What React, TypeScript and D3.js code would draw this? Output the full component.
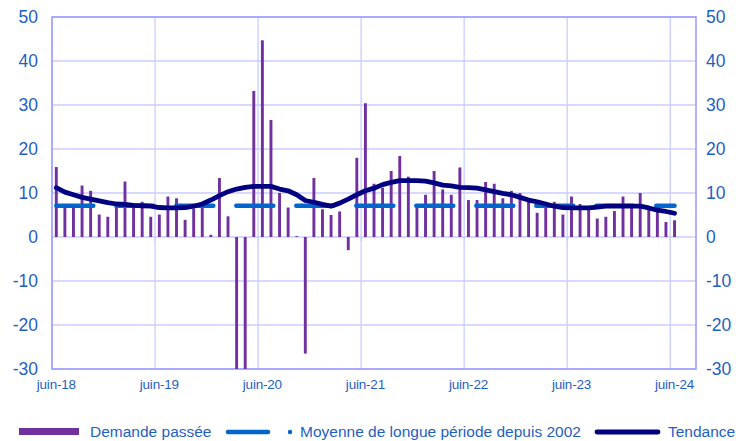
import React from 'react';
import * as d3 from 'd3';

const months: string[] = [
  'juin-18','juil-18','août-18','sept-18','oct-18','nov-18','déc-18',
  'janv-19','févr-19','mars-19','avr-19','mai-19','juin-19','juil-19','août-19','sept-19','oct-19','nov-19','déc-19',
  'janv-20','févr-20','mars-20','avr-20','mai-20','juin-20','juil-20','août-20','sept-20','oct-20','nov-20','déc-20',
  'janv-21','févr-21','mars-21','avr-21','mai-21','juin-21','juil-21','août-21','sept-21','oct-21','nov-21','déc-21',
  'janv-22','févr-22','mars-22','avr-22','mai-22','juin-22','juil-22','août-22','sept-22','oct-22','nov-22','déc-22',
  'janv-23','févr-23','mars-23','avr-23','mai-23','juin-23','juil-23','août-23','sept-23','oct-23','nov-23','déc-23',
  'janv-24','févr-24','mars-24','avr-24','mai-24','juin-24','juil-24','août-24',
];

const demande: number[] = [
  15.9, 6.8, 6.8, 11.7, 10.5, 5.1, 4.6, 6.8, 12.6, 6.9,
  8.0, 4.6, 5.1, 9.2, 8.8, 3.9, 6.5, 6.8, 0.5, 13.4,
  4.7, -38, -40, 33.2, 44.7, 26.6, 10.0, 6.7, 0.2, -26.5,
  13.4, 6.3, 5.0, 5.8, -3.0, 18.0, 30.4, 12.1, 11.2, 15.0,
  18.4, 13.7, 6.8, 9.6, 15.0, 10.8, 9.6, 15.8, 8.4, 8.4,
  12.5, 12.1, 8.8, 10.5, 10.0, 8.0, 5.5, 7.0, 8.0, 5.1,
  9.2, 7.5, 6.7, 4.2, 4.6, 5.9, 9.2, 7.0, 10.0, 7.0,
  7.2, 3.4, 3.8,
];

const tendance: number[] = [
  11.2, 10.2, 9.6, 9.0, 8.6, 8.2, 7.8, 7.5, 7.4, 7.2,
  7.1, 7.0, 6.7, 6.6, 6.6, 6.7, 7.0, 7.5, 8.4, 9.4,
  10.3, 10.9, 11.3, 11.5, 11.5, 11.5, 10.9, 10.5, 9.6, 8.3,
  7.9, 7.4, 7.0, 7.7, 8.6, 9.6, 10.5, 11.1, 11.9, 12.4,
  12.8, 12.8, 12.8, 12.7, 12.3, 11.8, 11.6, 11.3, 11.2, 11.1,
  10.7, 10.3, 9.9, 9.6, 9.0, 8.4, 8.0, 7.5, 7.0, 6.7,
  6.6, 6.6, 6.6, 6.8, 7.0, 7.0, 7.0, 7.0, 7.0, 6.6,
  6.1, 5.8, 5.4,
];

const moyenneValue = 7.1;
const moyenne: number[] = demande.map(() => moyenneValue);

const yTicks: number[] = [50, 40, 30, 20, 10, 0, -10, -20, -30];
const xLabels: string[] = ['juin-18', 'juin-19', 'juin-20', 'juin-21', 'juin-22', 'juin-23', 'juin-24'];

const W = 736;
const H = 441;
const plot = { left: 52, right: 696, top: 17, bottom: 369 };

const C_BAR = '#7030A0';
const C_MOY = '#0066CC';
const C_TEND = '#000080';
const C_GRID = '#CCCCFF';
const C_BORDER = '#9999FF';
const C_TEXT = '#1F5FBF';
const SANS = "'Liberation Sans', Arial, sans-serif";

export default function App() {
  const x = d3.scaleBand<number>().domain(d3.range(months.length)).range([plot.left, plot.right]).padding(0);
  const y = d3.scaleLinear().domain([-30, 50]).range([plot.bottom, plot.top]);
  const bw = x.bandwidth();
  const cx = (i: number) => (x(i) as number) + bw / 2;
  const barW = 2.9;

  const lineGen = d3.line<number>().x((_, i) => cx(i)).y((d) => y(d));

  const yearIdx = xLabels.map((l) => months.indexOf(l));

  return (
    <svg width={W} height={H} style={{ position: 'absolute', left: 0, top: 0, background: '#fff' }}>
      <defs>
        <clipPath id="plotClip">
          <rect x={plot.left} y={plot.top} width={plot.right - plot.left} height={plot.bottom - plot.top} />
        </clipPath>
      </defs>
      {yTicks.map((t) => (
        <line key={'h' + t} x1={plot.left} x2={plot.right} y1={y(t)} y2={y(t)} stroke={C_GRID} strokeWidth={1.3} />
      ))}
      {yearIdx.map((i) => (
        <line key={'v' + i} x1={x(i) as number} x2={x(i) as number} y1={plot.top} y2={plot.bottom} stroke={C_GRID} strokeWidth={1.3} />
      ))}
      {yearIdx.map((i) => (
        <line key={'tk' + i} x1={x(i) as number} x2={x(i) as number} y1={y(0)} y2={y(0) + 4} stroke={C_GRID} strokeWidth={1.3} />
      ))}
      <rect x={plot.left} y={plot.top} width={plot.right - plot.left} height={plot.bottom - plot.top} fill="none" stroke={C_BORDER} strokeWidth={1.5} />

      <g clipPath="url(#plotClip)">
        {demande.map((v, i) => (
          <rect key={'b' + i} x={cx(i) - barW / 2} width={barW} y={Math.min(y(v), y(0))} height={Math.abs(y(v) - y(0))} fill={C_BAR} />
        ))}
        <path d={lineGen(moyenne) || ''} fill="none" stroke={C_MOY} strokeWidth={4.5} strokeDasharray="37 23" strokeLinecap="round" />
        <path d={lineGen(tendance) || ''} fill="none" stroke={C_TEND} strokeWidth={4.8} strokeLinejoin="round" strokeLinecap="round" />
      </g>

      {yTicks.map((t) => (
        <text key={'yl' + t} x={plot.left - 14} y={y(t)} dy="0.35em" textAnchor="end" fontFamily={SANS} fontSize={17.5} fill={C_TEXT}>{t}</text>
      ))}
      {yTicks.map((t) => (
        <text key={'yr' + t} x={plot.right + 10} y={y(t)} dy="0.35em" textAnchor="start" fontFamily={SANS} fontSize={17.5} fill={C_TEXT}>{t}</text>
      ))}
      {yearIdx.map((i, k) => (
        <text key={'xl' + i} x={cx(i)} y={plot.bottom + 15} dy="0.35em" textAnchor="middle" fontFamily={SANS} fontSize={13.5} fill={C_TEXT} letterSpacing={-0.2}>{xLabels[k]}</text>
      ))}

      <g fontFamily={SANS} fontSize={15.5} fill={C_TEXT}>
        <rect x={19} y={428} width={60} height={7} fill={C_BAR} />
        <text x={90} y={432} dy="0.35em">Demande passée</text>
        <line x1={228} x2={268} y1={432} y2={432} stroke={C_MOY} strokeWidth={4.5} strokeLinecap="round" />
        <circle cx={290} cy={432} r={2.2} fill={C_MOY} />
        <text x={300} y={432} dy="0.35em">Moyenne de longue période depuis 2002</text>
        <line x1={597} x2={658} y1={432} y2={432} stroke={C_TEND} strokeWidth={4.8} strokeLinecap="round" />
        <text x={668} y={432} dy="0.35em">Tendance</text>
      </g>
    </svg>
  );
}
